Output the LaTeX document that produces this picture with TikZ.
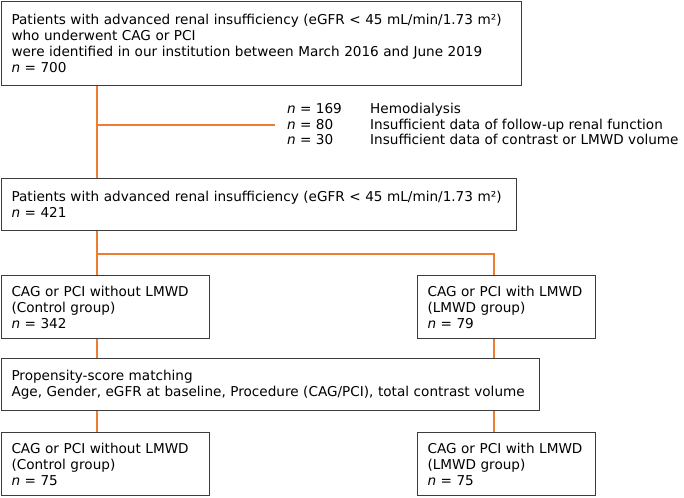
\documentclass[tikz,border=0pt]{standalone}
\usepackage{fontspec}
\setmainfont{DejaVu Sans}
\usepackage{tikz}

\definecolor{flowline}{RGB}{237,125,49}
\definecolor{boxline}{RGB}{60,60,60}

\tikzset{
  flowbox/.style={draw=boxline, line width=1pt, anchor=north west, align=left,
    inner xsep=10pt, inner ysep=0pt, font=\fontsize{13.6}{16}\selectfont},
  flowlink/.style={draw=flowline, line width=1.3pt},
  excltext/.style={anchor=base west, inner sep=0pt, font=\fontsize{13.6}{16}\selectfont}
}

\begin{document}
\begin{tikzpicture}[x=1pt,y=-1pt]
\useasboundingbox (0,0) rectangle (684,497);

\coordinate (colL) at (97,0);
\coordinate (colR) at (494,0);
\coordinate (excl) at (97,125);
\coordinate (exclend) at (275,125);
\coordinate (split) at (97,254);

\node[flowbox, text width=500pt, minimum height=84pt] (start) at (1,1)
  {Patients with advanced renal insufficiency (eGFR < 45 mL/min/1.73 m²)\\
   who underwent CAG or PCI\\
   were identified in our institution between March 2016 and June 2019\\
   \textit{n} = 700};

\foreach \k/\y/\cnt/\why in {1/114/169/Hemodialysis,
    2/130/80/Insufficient data of follow-up renal function,
    3/145/30/Insufficient data of contrast or LMWD volume}{
  \node[excltext] (excl-n-\k) at (287,\y) {\textit{n} = \cnt};
  \node[excltext] (excl-why-\k) at (370,\y) {\why};
}

\node[flowbox, text width=495pt, minimum height=52pt] (kept) at (1,178)
  {Patients with advanced renal insufficiency (eGFR < 45 mL/min/1.73 m²)\\
   \textit{n} = 421};

\node[flowbox, text width=188pt, minimum height=63pt] (ctrlpre) at (1,275)
  {CAG or PCI without LMWD\\(Control group)\\\textit{n} = 342};
\node[flowbox, text width=158pt, minimum height=63pt] (lmwdpre) at (417,275)
  {CAG or PCI with LMWD\\(LMWD group)\\\textit{n} = 79};

\node[flowbox, text width=518pt, minimum height=52pt] (psm) at (1,358)
  {Propensity-score matching\\
   Age, Gender, eGFR at baseline, Procedure (CAG/PCI), total contrast volume};

\node[flowbox, text width=188pt, minimum height=63pt] (ctrlpost) at (1,432)
  {CAG or PCI without LMWD\\(Control group)\\\textit{n} = 75};
\node[flowbox, text width=158pt, minimum height=63pt] (lmwdpost) at (417,432)
  {CAG or PCI with LMWD\\(LMWD group)\\\textit{n} = 75};

\draw[flowlink] (start.south -| colL) -- (kept.north -| colL);
\draw[flowlink] (excl) -- (exclend);
\draw[flowlink] (kept.south -| colL) -- (ctrlpre.north -| colL);
\draw[flowlink] (split) -| (lmwdpre.north -| colR);
\draw[flowlink] (ctrlpre.south -| colL) -- (psm.north -| colL);
\draw[flowlink] (lmwdpre.south -| colR) -- (psm.north -| colR);
\draw[flowlink] (psm.south -| colL) -- (ctrlpost.north -| colL);
\draw[flowlink] (psm.south -| colR) -- (lmwdpost.north -| colR);
\end{tikzpicture}
\end{document}
